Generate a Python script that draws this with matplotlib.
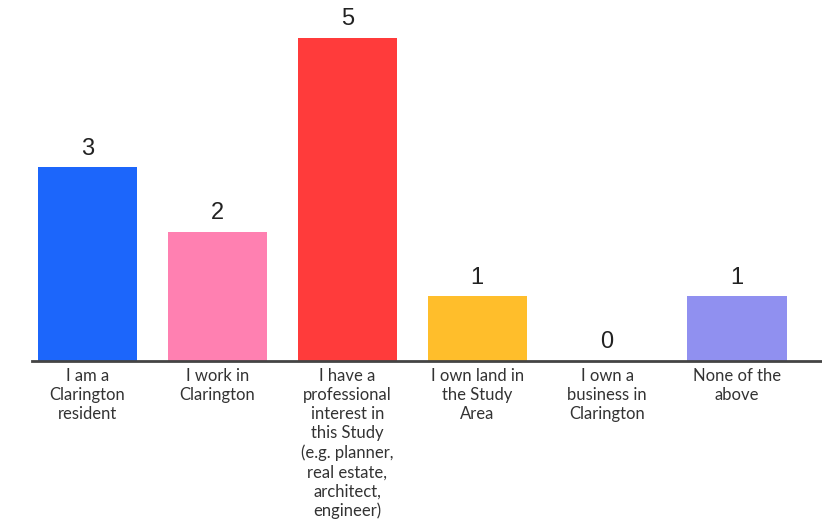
import matplotlib
matplotlib.use("Agg")
import matplotlib.pyplot as plt

categories = [
    "I am a\nClarington\nresident",
    "I work in\nClarington",
    "I have a\nprofessional\ninterest in\nthis Study\n(e.g. planner,\nreal estate,\narchitect,\nengineer)",
    "I own land in\nthe Study\nArea",
    "I own a\nbusiness in\nClarington",
    "None of the\nabove",
]
counts = [3, 2, 5, 1, 0, 1]
colors = ["#1c66fb", "#ff80b1", "#ff3b3b", "#ffbe2b", "#9090f0", "#9090f0"]

fig = plt.figure(figsize=(8.22, 5.22), dpi=100)
ax = fig.add_axes([32 / 822, 161 / 522, 790 / 822, 361 / 522])

x = list(range(len(categories)))
bars = ax.bar(x, counts, width=0.765, color=colors, zorder=2)

for xi, v in zip(x, counts):
    ax.text(xi, v + 0.12, str(v), ha="center", va="bottom",
            fontsize=17, color="#222222", family="Liberation Sans")

ax.set_xlim(-0.427, 5.654)
ax.set_ylim(0, 5.59)

for side in ["top", "right", "left"]:
    ax.spines[side].set_visible(False)
ax.spines["bottom"].set_color("#444444")
ax.spines["bottom"].set_linewidth(2)
ax.set_yticks([])
ax.set_xticks(x)
ax.set_xticklabels(categories, fontsize=12, color="#333333",
                   family="Lato", linespacing=1.24, va="top")
ax.tick_params(axis="x", length=0, pad=5)

fig.savefig("out.png", dpi=100)
